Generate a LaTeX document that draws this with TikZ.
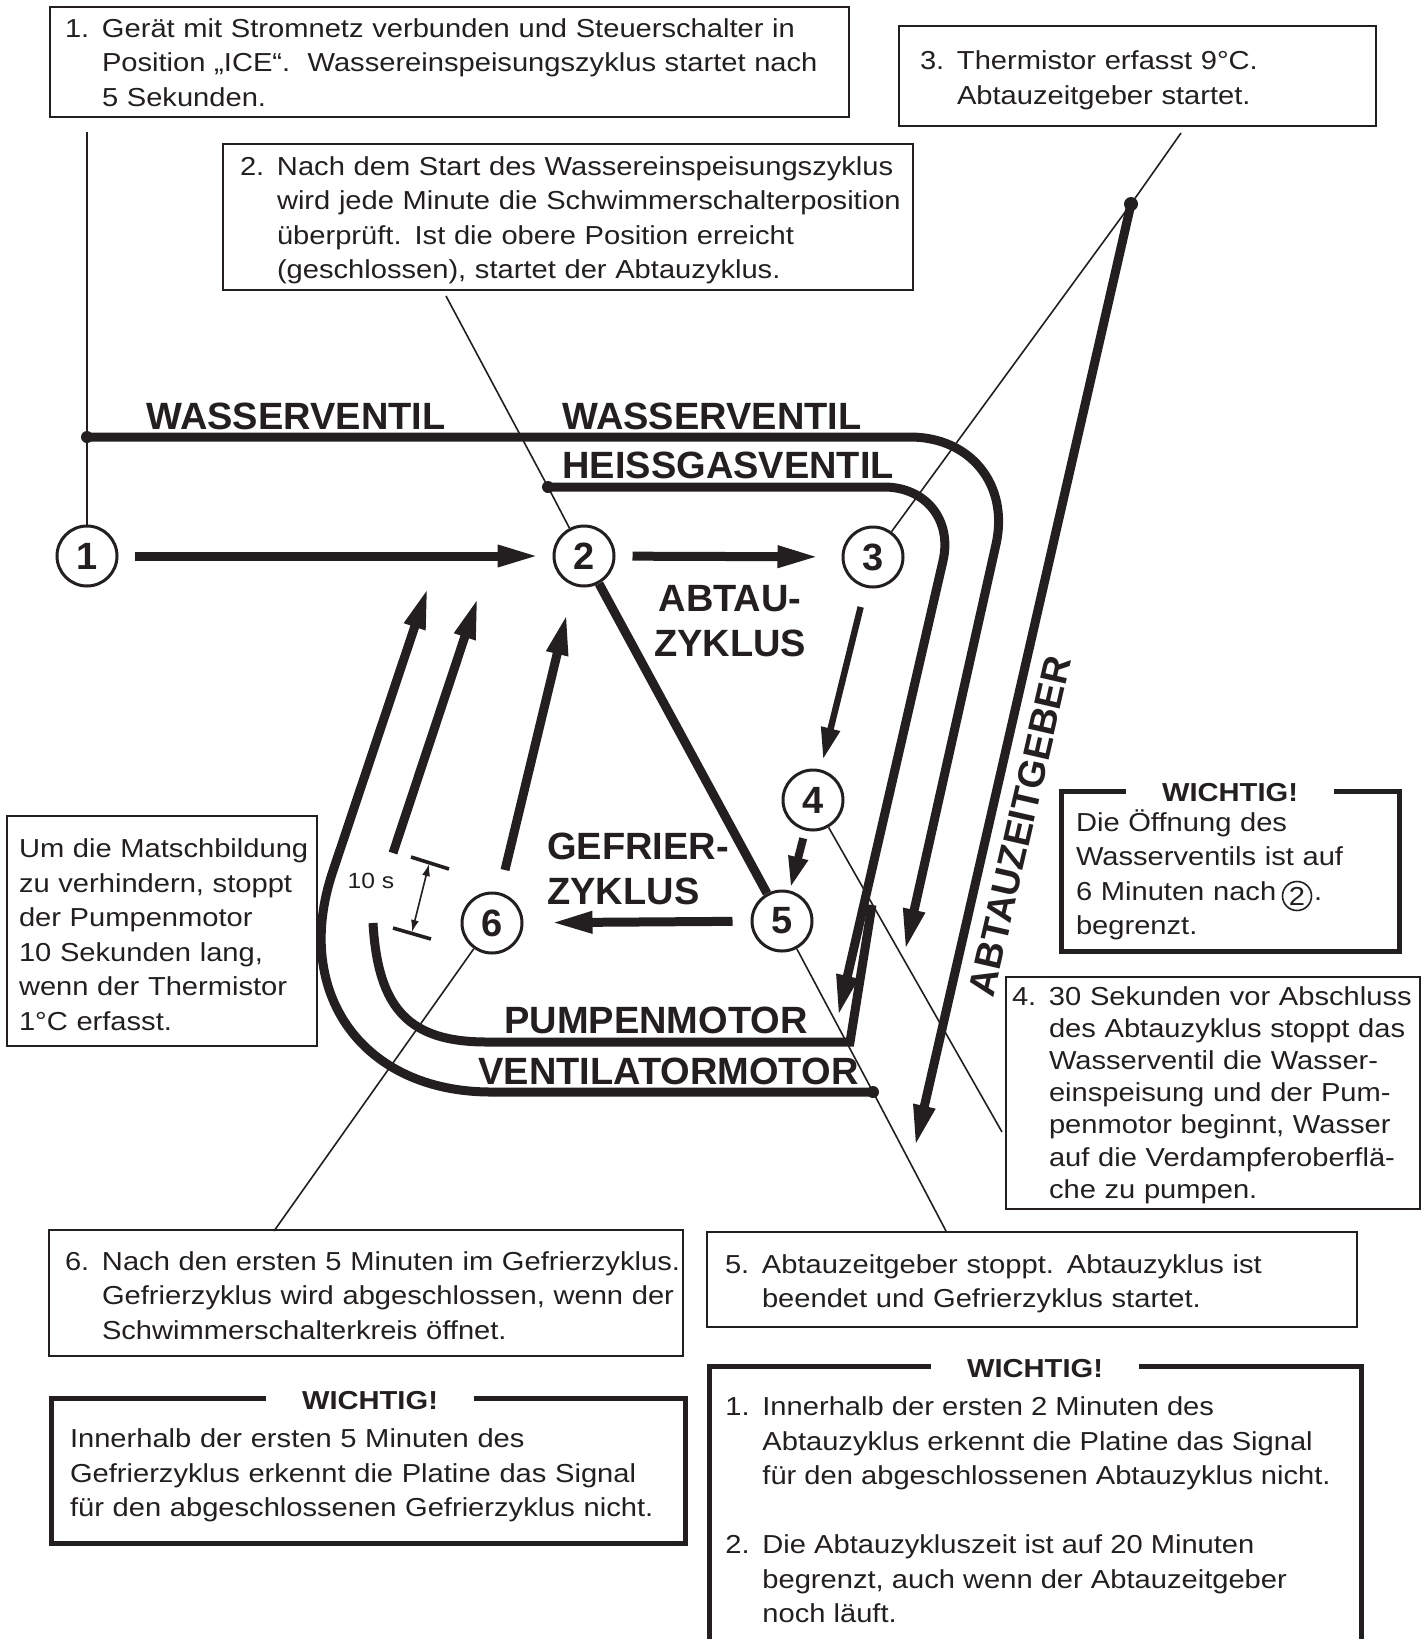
\documentclass[tikz,border=0pt]{standalone}
\usepackage{fontspec}
\setmainfont{Liberation Sans}[FakeStretch=1.12]
\newfontfamily\lblfont{Liberation Sans}
\usetikzlibrary{arrows.meta}

\definecolor{ink}{RGB}{35,31,32}

\tikzset{
  heavy/.style={draw=ink, line width=4.5pt},
  fwd/.style={heavy, -{Triangle[length=21pt,width=10pt]}},
  fwdsmall/.style={draw=ink, line width=3.2pt, -{Triangle[length=16pt,width=9pt]}},
  leader/.style={draw=ink, line width=0.8pt},
  stufe/.style={circle, draw=ink, line width=1.5pt, minimum size=30pt, inner sep=0pt, text=ink,
    font=\lblfont\bfseries\fontsize{19}{19}\selectfont},
  kasten/.style={draw=ink, line width=1.2pt, align=left, inner ysep=0pt, text=ink,
    font=\fontsize{13}{17.25}\selectfont},
  wichtig/.style={kasten, line width=2.5pt},
  titel/.style={fill=white, inner xsep=18pt, inner ysep=1pt, text=ink,
    font=\bfseries\fontsize{13}{15}\selectfont},
  signal/.style={inner sep=0pt, text=ink, font=\lblfont\bfseries\fontsize{19}{22.5}\selectfont},
  punkt/.style={fill=ink}
}

\begin{document}
\begin{tikzpicture}[x=0.5pt, y=-0.5pt]
  \useasboundingbox (0,0) rectangle (1427,1639);
  \fill[white] (0,0) rectangle (1427,1639);

  % cycle steps
  \node[stufe] (c1) at (87,556) {1};
  \node[stufe] (c2) at (584,556) {2};
  \node[stufe] (c3) at (873,557) {3};
  \node[stufe] (c4) at (813,800) {4};
  \node[stufe] (c5) at (782,921) {5};
  \node[stufe] (c6) at (492,923) {6};

  % note boxes
  \node[kasten, text width=384.5pt, inner xsep=7.5pt, minimum height=55pt] (info1) at (449.5,62)
    {\noindent\begin{tabular}{@{}p{18.5pt}@{}l@{}}
     1.\rule{0pt}{15pt}&Gerät mit Stromnetz verbunden und Steuerschalter in\\
       &Position „ICE“.\ \ Wassereinspeisungszyklus startet nach\\
       &5 Sekunden.\end{tabular}};
  \node[kasten, text width=328pt, inner xsep=8.5pt, minimum height=73pt] (info2) at (568,217)
    {\noindent\begin{tabular}{@{}p{18.5pt}@{}l@{}}
     2.\rule{0pt}{15pt}&Nach dem Start des Wassereinspeisungszyklus\\
       &wird jede Minute die Schwimmerschalterposition\\
       &überprüft. Ist die obere Position erreicht\\
       &(geschlossen), startet der Abtauzyklus.\end{tabular}};
  \node[kasten, text width=217.5pt, inner xsep=10.5pt, minimum height=50pt] (info3) at (1137.5,76)
    {\noindent\begin{tabular}{@{}p{18.5pt}@{}l@{}}
     3.\rule{0pt}{16pt}&Thermistor erfasst 9°C.\\
       &Abtauzeitgeber startet.\end{tabular}};
  \node[kasten, text width=201pt, inner xsep=3pt, minimum height=116pt,
        font=\fontsize{13}{16.1}\selectfont] (info4) at (1213,1093)
    {\noindent\begin{tabular}{@{}p{18.5pt}@{}l@{}}
     4.\rule{0pt}{13.5pt}&30 Sekunden vor Abschluss\\
       &des Abtauzyklus stoppt das\\
       &Wasserventil die Wasser-\\
       &einspeisung und der Pum-\\
       &penmotor beginnt, Wasser\\
       &auf die Verdampferoberflä-\\
       &che zu pumpen.\end{tabular}};
  \node[kasten, text width=307pt, inner xsep=9pt, minimum height=47.5pt] (info5) at (1032,1279.5)
    {\noindent\begin{tabular}{@{}p{18.5pt}@{}l@{}}
     5.\rule{0pt}{16pt}&Abtauzeitgeber stoppt. Abtauzyklus ist\\
       &beendet und Gefrierzyklus startet.\end{tabular}};
  \node[kasten, text width=301pt, inner xsep=8pt, minimum height=63pt] (info6) at (366,1293)
    {\noindent\begin{tabular}{@{}p{18.5pt}@{}l@{}}
     6.\rule{0pt}{17pt}&Nach den ersten 5 Minuten im Gefrierzyklus.\\
       &Gefrierzyklus wird abgeschlossen, wenn der\\
       &Schwimmerschalterkreis öffnet.\end{tabular}};
  \node[kasten, text width=143pt, inner xsep=6pt, minimum height=115pt] (matsch) at (162,931)
    {\noindent\begin{tabular}{@{}l@{}}
     \rule{0pt}{18pt}Um die Matschbildung\\zu verhindern, stoppt\\der Pumpenmotor\\
     10 Sekunden lang,\\wenn der Thermistor\\1°C erfasst.\end{tabular}};

  % WICHTIG boxes
  \node[wichtig, text width=154pt, inner xsep=7.5pt, minimum height=80pt] (wichtig1) at (1230,871)
    {\noindent\begin{tabular}{@{}l@{}}
     \rule{0pt}{17pt}Die Öffnung des\\Wasserventils ist auf\\6 Minuten nach\hspace*{19pt}.\\begrenzt.\end{tabular}};
  \node[circle, draw=ink, line width=0.8pt, minimum size=14.5pt, inner sep=0pt, text=ink,
        font=\fontsize{13}{13}\selectfont] (kreis2) at (1297,896) {2};
  \node[titel] (titel1) at (1230,793) {WICHTIG!};
  \node[wichtig, text width=298pt, inner xsep=9.5pt, minimum height=72.5pt] (wichtig2) at (368,1470.5)
    {\noindent\begin{tabular}{@{}l@{}}
     \rule{0pt}{17pt}Innerhalb der ersten 5 Minuten des\\
     Gefrierzyklus erkennt die Platine das Signal\\
     für den abgeschlossenen Gefrierzyklus nicht.\end{tabular}};
  \node[titel] (titel2) at (370,1401) {WICHTIG!};
  \draw[draw=ink, line width=2.5pt] (709,1645) -- (709,1366) -- (1361,1366) -- (1361,1645);
  \node[anchor=north west, inner sep=0pt, align=left, text=ink,
        font=\fontsize{13}{17.25}\selectfont] (wichtig3) at (725,1391)
    {\noindent\begin{tabular}{@{}p{18.5pt}@{}l@{}}
     1.&Innerhalb der ersten 2 Minuten des\\
       &Abtauzyklus erkennt die Platine das Signal\\
       &für den abgeschlossenen Abtauzyklus nicht.\\
       &\\
     2.&Die Abtauzykluszeit ist auf 20 Minuten\\
       &begrenzt, auch wenn der Abtauzeitgeber\\
       &noch läuft.\end{tabular}};
  \node[titel] (titel3) at (1035,1369) {WICHTIG!};

  % signal lines
  \coordinate (wvdot) at (87,437);
  \coordinate (hgdot) at (548,487);
  \coordinate (azdot) at (1131,204);
  \coordinate (vmdot) at (873,1092);
  \coordinate (wvend) at (905,951);
  \coordinate (hgend) at (838,1017);
  \coordinate (azend) at (915,1147);
  \coordinate (vmend) at (428,587);
  \coordinate (pmstart) at (373,923);
  \coordinate (pmend) at (872,905);
  \coordinate (pfeil1a) at (393,853);
  \coordinate (pfeil1b) at (478,597);
  \coordinate (pfeil2a) at (505,870);
  \coordinate (pfeil2b) at (567,613);

  \draw[fwd, rounded corners=55pt] (wvdot) -- (1020,437) -- (wvend);
  \draw[fwd, rounded corners=38pt] (hgdot) -- (960,487) -- (hgend);
  \draw[fwd] (azdot) -- (azend);
  \draw[fwd, rounded corners=116pt] (vmdot) -- (259,1092) -- (vmend);
  \draw[heavy] (pmstart) .. controls (378,1010) and (410,1042) .. (487,1042) -- (850,1042) -- (pmend);
  \draw[fwd] (pfeil1a) -- (pfeil1b);
  \draw[fwd] (pfeil2a) -- (pfeil2b);

  \fill[punkt] (wvdot) circle (3pt);
  \fill[punkt] (hgdot) circle (3pt);
  \fill[punkt] (azdot) circle (3.5pt);
  \fill[punkt] (vmdot) circle (3pt);

  \node[signal, anchor=base west] (wv1) at (146,429) {WASSERVENTIL};
  \node[signal, anchor=base west] (wv2) at (562,429) {WASSERVENTIL};
  \node[signal, anchor=base west] (hgv) at (562,478) {HEISSGASVENTIL};
  \node[signal, anchor=base west] (pm) at (504,1033) {PUMPENMOTOR};
  \node[signal, anchor=base west] (vm) at (478,1084) {VENTILATORMOTOR};
  \node[signal, align=center] (abtau) at (730,621) {ABTAU-\\ZYKLUS};
  \node[signal, align=left, anchor=west] (gefrier) at (547,869) {GEFRIER-\\ZYKLUS};
  \node[signal, rotate=77] (azg) at (1020,826) {ABTAUZEITGEBER};

  % cycle arrows
  \draw[fwd, shorten <=8pt, shorten >=6.5pt] (c1) -- (c2);
  \draw[fwd, shorten <=8.5pt, shorten >=11pt] (c2) -- (c3);
  \draw[fwdsmall, shorten <=10pt, shorten >=5pt] (c3) -- (c4);
  \draw[fwdsmall, line width=4pt, shorten <=4pt, shorten >=1pt] (c4) -- (c5);
  \draw[fwd, shorten <=9pt, shorten >=13.5pt] (c5) -- (c6);
  \draw[heavy] (c2) -- (c5);

  % leaders
  \coordinate (l1) at (87,132);
  \coordinate (l2) at (446,296);
  \coordinate (l3) at (1181,133);
  \coordinate (l4) at (1002,1132);
  \coordinate (l5) at (946,1231);
  \coordinate (l6) at (274,1231);
  \draw[leader] (l1) -- (wvdot) -- (c1);
  \draw[leader] (l2) -- (hgdot) -- (c2);
  \draw[leader] (l3) -- (azdot) -- (c3);
  \draw[leader] (c4) -- (l4);
  \draw[leader] (c5) -- (vmdot) -- (l5);
  \draw[leader] (c6) -- (l6);

  % 10 s pause
  \coordinate (pa) at (429,864);
  \coordinate (pb) at (412,932);
  \draw[draw=ink, line width=1.8pt] (411,857) -- (449,869);
  \draw[draw=ink, line width=1.8pt] (393,928) -- (431,939);
  \draw[leader, {Latex[length=6pt,width=4pt]}-{Latex[length=6pt,width=4pt]}] (pa) -- (pb);
  \node[text=ink, font=\fontsize{11}{13}\selectfont] (zehn) at (371,881) {10 s};
\end{tikzpicture}
\end{document}
